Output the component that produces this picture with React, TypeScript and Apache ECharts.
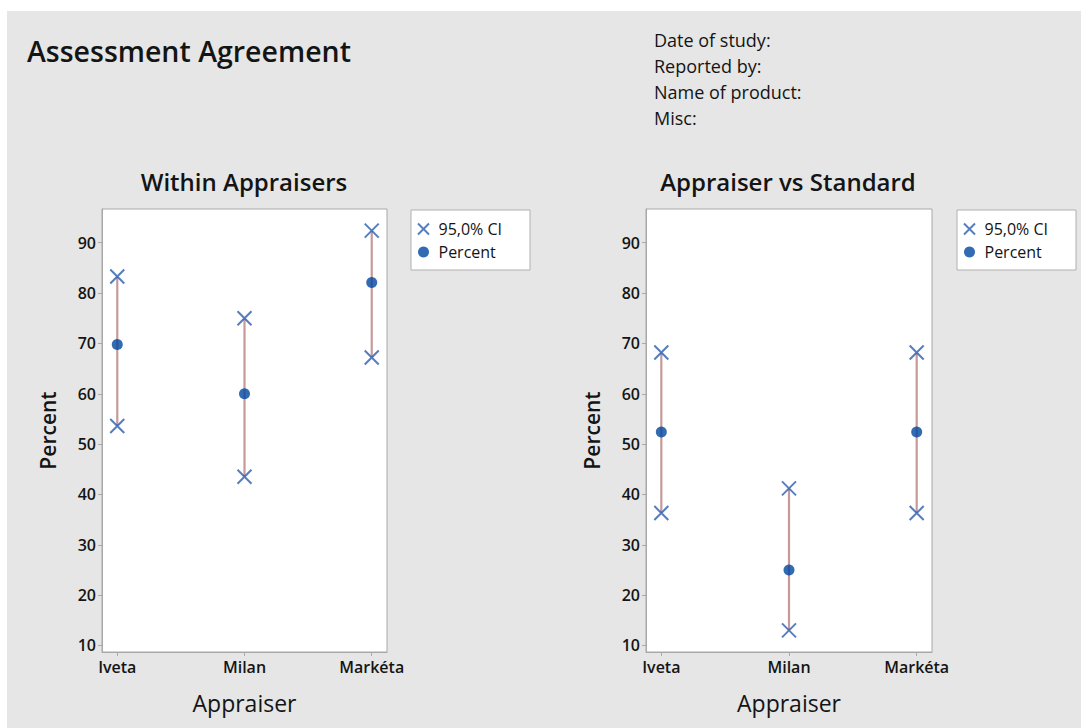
import React, { useEffect, useRef } from "react";
import * as echarts from "echarts";

const appraisers = ["Iveta", "Milan", "Markéta"];
const yTicks = [10, 20, 30, 40, 50, 60, 70, 80, 90];

// Within Appraisers
const withinLower = [53.6, 43.5, 67.2];
const withinPercent = [69.8, 60.0, 82.1];
const withinUpper = [83.3, 75.0, 92.4];

// Appraiser vs Standard
const stdLower = [36.3, 13.0, 36.3];
const stdPercent = [52.4, 25.0, 52.4];
const stdUpper = [68.2, 41.2, 68.2];

const headerLines = ["Date of study:", "Reported by:", "Name of product:", "Misc:"];

const FONT = "'Open Sans', 'Noto Sans', sans-serif";
const X_SYMBOL = "path://M0,0L10,10M10,0L0,10";
const CI_COLOR = "#2a5cb0";
const PCT_COLOR = "#0046a0";
const BAR_COLOR = "#c79a9a";
const TEXT = "#141414";

function panelSeries(idx: number, lower: number[], pct: number[], upper: number[]) {
  const ci: number[][] = [];
  lower.forEach((v, i) => ci.push([i, v]));
  upper.forEach((v, i) => ci.push([i, v]));
  return [
    {
      type: "custom",
      name: "bar" + idx,
      xAxisIndex: idx,
      yAxisIndex: idx,
      silent: true,
      z: 1,
      data: lower.map((v, i) => [i, v, upper[i]]),
      encode: { x: 0, y: [1, 2] },
      renderItem: (params: any, api: any) => {
        const p1 = api.coord([api.value(0), api.value(1)]);
        const p2 = api.coord([api.value(0), api.value(2)]);
        return {
          type: "line",
          shape: { x1: p1[0], y1: p1[1], x2: p2[0], y2: p2[1] },
          style: { stroke: BAR_COLOR, lineWidth: 2.2 },
        };
      },
    },
    {
      type: "scatter",
      name: "95,0% CI",
      xAxisIndex: idx,
      yAxisIndex: idx,
      symbol: X_SYMBOL,
      symbolSize: 14,
      z: 3,
      itemStyle: { color: "rgba(0,0,0,0)", borderColor: CI_COLOR, borderWidth: 2 },
      data: ci,
    },
    {
      type: "scatter",
      name: "Percent",
      xAxisIndex: idx,
      yAxisIndex: idx,
      symbol: "circle",
      symbolSize: 11,
      z: 4,
      itemStyle: { color: PCT_COLOR },
      data: pct.map((v, i) => [i, v]),
    },
  ];
}

function xAxisDef(gridIndex: number) {
  return {
    type: "value",
    gridIndex,
    min: -0.12,
    max: 2.12,
    name: "Appraiser",
    nameLocation: "middle",
    nameGap: 39,
    nameTextStyle: { fontFamily: FONT, fontSize: 23, color: TEXT },
    axisLine: { show: true, onZero: false, lineStyle: { color: "#a8a8a8" } },
    axisTick: { show: true, length: 4, customValues: [0, 1, 2], lineStyle: { color: "#a8a8a8" } },
    axisLabel: {
      customValues: [0, 1, 2],
      formatter: (v: number) => appraisers[Math.round(v)],
      fontFamily: FONT,
      fontSize: 16,
      fontWeight: 600,
      color: TEXT,
      margin: 7,
    },
    splitLine: { show: false },
  };
}

function yAxisDef(gridIndex: number) {
  return {
    type: "value",
    gridIndex,
    min: 8.7,
    max: 96.7,
    name: "Percent",
    nameLocation: "middle",
    nameGap: 44,
    nameTextStyle: { fontFamily: FONT, fontSize: 21, fontWeight: 600, color: TEXT },
    axisLine: { show: true, onZero: false, lineStyle: { color: "#a8a8a8" } },
    axisTick: { show: true, length: 4, customValues: yTicks, lineStyle: { color: "#a8a8a8" } },
    axisLabel: {
      customValues: yTicks,
      fontFamily: FONT,
      fontSize: 16,
      fontWeight: 600,
      color: TEXT,
      margin: 6,
    },
    splitLine: { show: false },
  };
}

function legendDef(left: number) {
  return {
    orient: "vertical",
    left,
    top: 210,
    data: [
      { name: "95,0% CI", icon: X_SYMBOL, itemStyle: { color: "rgba(0,0,0,0)", borderColor: CI_COLOR, borderWidth: 2 } },
      { name: "Percent", icon: "circle", itemStyle: { color: PCT_COLOR } },
    ],
    itemWidth: 20,
    itemHeight: 11,
    itemGap: 7,
    backgroundColor: "#ffffff",
    borderColor: "#b0b0b0",
    borderWidth: 1,
    padding: [11, 28, 10, 6],
    textStyle: { fontFamily: FONT, fontSize: 16, color: TEXT },
    selectedMode: false,
  };
}

export default function App() {
  const ref = useRef<HTMLDivElement>(null);
  useEffect(() => {
    if (!ref.current) return;
    const chart = echarts.init(ref.current, undefined, { renderer: "svg" });
    const option: any = {
      animation: false,
      backgroundColor: "#ffffff",
      textStyle: { fontFamily: FONT },
      title: [
        {
          text: "Assessment Agreement",
          left: 27,
          top: 36,
          padding: 0,
          textStyle: { fontFamily: FONT, fontSize: 28.5, fontWeight: 600, color: TEXT },
        },
        {
          text: "Within Appraisers",
          left: 244,
          top: 169,
          padding: 0,
          textAlign: "center",
          textStyle: { fontFamily: FONT, fontSize: 24, fontWeight: 600, color: TEXT },
        },
        {
          text: "Appraiser vs Standard",
          left: 788,
          top: 169,
          padding: 0,
          textAlign: "center",
          textStyle: { fontFamily: FONT, fontSize: 24, fontWeight: 600, color: TEXT },
        },
      ],
      graphic: [
        {
          type: "rect",
          z: -10,
          silent: true,
          shape: { x: 7, y: 11, width: 1081, height: 728 },
          style: { fill: "#e6e6e6" },
        },
        ...headerLines.map((t, i) => ({
          type: "text",
          left: 654,
          top: 31 + i * 26,
          style: { text: t, fontFamily: FONT, fontSize: 18, fill: TEXT },
        })),
      ],
      legend: [legendDef(411), legendDef(957)],
      grid: [
        { left: 102, top: 209, width: 285, height: 443, show: true, backgroundColor: "#ffffff", borderColor: "#a8a8a8", borderWidth: 1 },
        { left: 646, top: 209, width: 286, height: 443, show: true, backgroundColor: "#ffffff", borderColor: "#a8a8a8", borderWidth: 1 },
      ],
      xAxis: [xAxisDef(0), xAxisDef(1)],
      yAxis: [yAxisDef(0), yAxisDef(1)],
      series: [
        ...panelSeries(0, withinLower, withinPercent, withinUpper),
        ...panelSeries(1, stdLower, stdPercent, stdUpper),
      ],
    };
    chart.setOption(option);
    return () => chart.dispose();
  }, []);
  return (
    <div
      ref={ref}
      style={{ position: "absolute", left: 0, top: 0, width: 1081, height: 728 }}
    />
  );
}
